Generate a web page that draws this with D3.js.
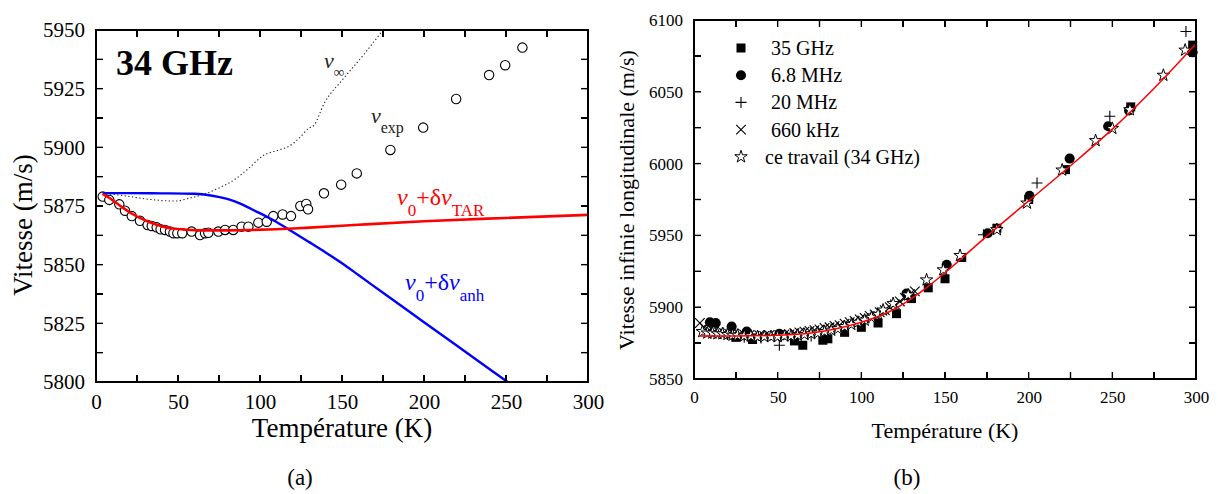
<!DOCTYPE html>
<html><head><meta charset="utf-8">
<script src="https://cdn.jsdelivr.net/npm/d3@7"></script>
<style>
body{margin:0;background:#fff;position:relative;}
svg{display:block;font-family:"Liberation Serif","Times New Roman",serif;}
.fr{position:absolute;box-sizing:border-box;border:2px solid #000;pointer-events:none;}
.tk{position:absolute;background:#000;pointer-events:none;}
</style></head><body>
<svg id="c" width="1218" height="494" xmlns="http://www.w3.org/2000/svg"></svg>
<script>
// ---------- Panel (a) data ----------
const tempTicksA = [0,25,50,75,100,125,150,175,200,225,250,275,300];
const tempLabelsA = [0,50,100,150,200,250,300];
const velTicksA = [5800,5812.5,5825,5837.5,5850,5862.5,5875,5887.5,5900,5912.5,5925,5937.5,5950];
const velLabelsA = [5800,5825,5850,5875,5900,5925,5950];
const vExp = [[4.1,5879.0],[8.1,5877.6],[14.2,5875.7],[17.7,5873.0],[21.8,5870.7],[26.8,5868.7],[31.5,5866.9],[34,5866.5],[37,5865.9],[39.4,5865.1],[42.1,5864.8],[45.1,5864.1],[47.2,5863.4],[49.6,5863.4],[52.6,5863.4],[58.3,5864.1],[63.4,5862.6],[66.5,5863.4],[68.5,5863.6],[74.6,5864.1],[78.7,5864.8],[83.7,5864.8],[88.8,5866.2],[92.9,5866.2],[99,5867.9],[104.1,5868.3],[108.1,5870.7],[113.8,5871.4],[118.9,5870.7],[124.6,5875.0],[128.2,5875.9],[129.3,5873.6],[139,5880.4],[149.5,5884.1],[159,5888.9],[179.5,5898.9],[199.5,5908.4],[219.6,5920.6],[239.7,5930.8],[249.5,5935],[260,5942.5]];
const vTar = [[4,5880.2],[8,5878.5],[12,5876.5],[17,5874],[22,5871.7],[27,5869.8],[32,5868.3],[37,5867],[42,5866],[47,5865.4],[55,5864.9],[65,5864.6],[80,5864.6],[95,5864.8],[110,5865.1],[130,5865.8],[160,5867],[200,5868.5],[250,5869.9],[300,5871.2]];
const vAnh = [[4,5880.5],[20,5880.5],[40,5880.4],[60,5880.2],[70,5879.5],[80,5878],[88,5876],[95,5873.6],[106,5869.8],[118,5864.8],[130,5859.6],[140,5855.2],[150,5850.6],[160,5845.6],[175,5838],[200,5825.5],[225,5813],[251,5800]];
const vInf = [[4,5880.5],[17,5879.4],[33,5877.8],[48,5877.1],[58,5878.5],[67,5880.3],[76,5883],[84,5886],[93,5891],[102,5896.5],[112,5899],[118,5900.6],[124,5904],[129.5,5908],[133,5909.5],[139,5918.5],[151,5929.4],[163,5939.3],[175,5950]];

// ---------- Panel (b) data ----------
const tempTicksB = [0,25,50,75,100,125,150,175,200,225,250,275,300];
const tempLabelsB = [0,50,100,150,200,250,300];
const velTicksB = [5850,5875,5900,5925,5950,5975,6000,6025,6050,6075,6100];
const velLabelsB = [5850,5900,5950,6000,6050,6100];
const fitB = [[3,5880],[25,5880],[50,5880.5],[70,5882],[85,5885],[100,5889.5],[117,5897],[130,5906],[140,5914.5],[150,5924],[175,5949.5],[200,5974],[225,5998.5],[250,6024],[275,6052.5],[300,6083.5]];
const ghz35 = [[25,5879],[35,5877.5],[60,5876.5],[65,5873.5],[77,5877],[80,5878],[90,5882.5],[100,5886],[110,5889],[121,5895.5],[130,5906],[140,5913.5],[150,5919.8],[160,5934.6],[181,5955],[200,5975],[222,5995.8],[261,6039.5],[298,6082.5]];
const mhz68 = [[9.5,5889.5],[13,5889],[22.5,5886.5],[31.5,5883],[51,5881.5],[127,5909.5],[151,5929.5],[175.5,5951.5],[200.5,5977.5],[224.5,6003.5],[247.5,6026],[260,6037],[298,6077.5]];
const mhz20 = [[10,5882],[20,5881],[30,5879],[40,5878.5],[51,5873.5],[60,5878],[70,5880],[173,5950.5],[205,5986.5],[248.5,6033],[294,6092]];
const khz660 = [[3.5,5889],[6,5886],[9,5884],[12,5883],[15,5882.5],[18,5882],[21,5881.5],[24,5881.5],[27,5881],[30,5881],[33,5880.5],[36,5880],[39,5880.5],[42,5880],[45,5880.5],[48,5880],[51,5880.5],[54,5881],[57,5881],[60,5882],[63,5882.5],[66,5883],[69,5883.5],[72,5884],[75,5884.5],[78,5885.5],[81,5886],[84,5887],[87,5887.5],[90,5888.5],[93,5889.5],[96,5890.5],[99,5891.5],[102,5892.5],[105,5894],[108,5895],[111,5896.5],[114,5898],[117,5900],[120,5902],[123,5904],[126,5906.5],[129,5909],[132,5911]];
const thisWork = [[5,5883],[8,5882],[11,5882],[14,5881.5],[17,5881.5],[20,5881],[23,5880.5],[26,5880.5],[30,5880],[34,5880],[38,5879.5],[42,5879.5],[46,5879.5],[50,5879.5],[54,5880],[58,5880],[62,5880.5],[66,5881],[70,5881.5],[74,5882],[78,5883],[82,5884],[86,5885],[90,5886.5],[94,5888],[98,5889.5],[102,5891],[106,5893],[110,5895],[113,5898],[119,5902.5],[128,5908.5],[139,5919],[149,5926],[159,5936],[181,5954],[199,5972.5],[220,5995.5],[240,6016],[250,6024.5],[260.5,6037.5],[280.5,6061.5],[293.5,6079]];
const legendLabels = ["35 GHz","6.8 MHz","20 MHz","660 kHz","ce travail (34 GHz)"];

const svg = d3.select('#c');
const FONT = '"Liberation Serif","Times New Roman",serif';

function drawLabels(xs, ys, xl, yl, fs, padX, padY) {
  const g = svg.append('g');
  const [x0] = xs.range(), [yb] = ys.range();
  const ax = g.append('g').attr('transform',`translate(0,${yb})`)
    .call(d3.axisBottom(xs).tickValues(xl).tickSize(0).tickPadding(padX).tickFormat(d3.format('d')));
  const ay = g.append('g').attr('transform',`translate(${x0},0)`)
    .call(d3.axisLeft(ys).tickValues(yl).tickSize(0).tickPadding(padY).tickFormat(d3.format('d')));
  [ax, ay].forEach(a => { a.select('.domain').remove(); a.selectAll('.tick line').remove(); });
  g.selectAll('text').attr('font-family',FONT).attr('font-size',fs).attr('fill','#000');
}

// frame + inward ticks (SVG)
function drawFrame(xs, ys, xt, yt, len, sw) {
  const [x0,x1] = xs.range(), [yb,yt0] = ys.range();
  const g = svg.append('g');
  g.append('rect').attr('x',x0).attr('y',yt0).attr('width',x1-x0).attr('height',yb-yt0)
    .attr('fill','none').attr('stroke','#000').attr('stroke-width',sw);
  const segs = [];
  xt.forEach(t => { const x = xs(t); segs.push([x,yb,0,-len],[x,yt0,0,len]); });
  yt.forEach(t => { const y = ys(t); segs.push([x0,y,len,0],[x1,y,-len,0]); });
  g.selectAll(null).data(segs).join('path')
    .attr('d', d => `M${d[0]},${d[1]}l${d[2]},${d[3]}`)
    .attr('fill','none').attr('stroke','#000').attr('stroke-width',1.4);
  // same frame and ticks as positioned HTML overlay, from the same scales
  const body = d3.select('body');
  body.append('div').attr('class','fr')
    .style('left', (x0-1)+'px').style('top', (yt0-1)+'px')
    .style('width', (x1-x0+2)+'px').style('height', (yb-yt0+2)+'px');
  const tw = 1.4;
  const boxes = [];
  xt.forEach(t => { const x = xs(t);
    boxes.push([x-tw/2, yb-len, tw, len], [x-tw/2, yt0, tw, len]); });
  yt.forEach(t => { const y = ys(t);
    boxes.push([x0, y-tw/2, len, tw], [x1-len, y-tw/2, len, tw]); });
  body.selectAll(null).data(boxes).join('div').attr('class','tk')
    .style('left', d => d[0]+'px').style('top', d => d[1]+'px')
    .style('width', d => d[2]+'px').style('height', d => d[3]+'px');
}

// ================= Panel (a) =================
const xA = d3.scaleLinear().domain([0,300]).range([96,588]);
const yA = d3.scaleLinear().domain([5800,5950]).range([382,30]);
const lineA = d3.line().x(d=>xA(d[0])).y(d=>yA(d[1])).curve(d3.curveMonotoneX);
const pa = svg.append('g');
pa.append('path').datum(vInf).attr('d',lineA).attr('fill','none').attr('stroke','#222')
  .attr('stroke-width',1.1).attr('stroke-dasharray','1.3,2.4');
pa.selectAll('circle.exp').data(vExp).join('circle').attr('class','exp')
  .attr('cx',d=>xA(d[0])).attr('cy',d=>yA(d[1])).attr('r',4.7)
  .attr('fill','#fff').attr('stroke','#000').attr('stroke-width',1.1);
pa.append('path').datum(vAnh).attr('d',lineA).attr('fill','none').attr('stroke','#0000ff').attr('stroke-width',2.4);
pa.append('path').datum(vTar).attr('d',lineA).attr('fill','none').attr('stroke','#ff0000').attr('stroke-width',2.6);
drawFrame(xA, yA, tempTicksA, velTicksA, 7, 2);
drawLabels(xA, yA, tempLabelsA, velLabelsA, 21, 12, 11);

svg.append('text').attr('x',116).attr('y',75).attr('font-size',36).attr('font-weight','bold')
  .attr('font-family',FONT).text('34 GHz');

function sublabel(x, y, color, size, subSize, parts) {
  const t = svg.append('text').attr('x',x).attr('y',y).attr('fill',color)
    .attr('font-family',FONT).attr('font-size',size);
  let shift = 0;
  parts.forEach(p => {
    const ts = t.append('tspan').text(p.t);
    if (p.i) ts.attr('font-style','italic');
    const target = p.s ? subSize*0.62 : 0;
    if (target !== shift) { ts.attr('dy', target - shift); shift = target; }
    if (p.s) ts.attr('font-size', subSize);
  });
}
sublabel(324, 68, '#222', 22, 15, [{t:'v',i:1},{t:'\u221E',s:1}]);
sublabel(371, 123, '#222', 22, 16, [{t:'v',i:1},{t:'exp',s:1}]);
sublabel(397, 205, '#ff0000', 24, 17, [{t:'v',i:1},{t:'0',s:1},{t:'+\u03B4'},{t:'v',i:1},{t:'TAR',s:1}]);
sublabel(405, 290, '#0000ff', 24, 17, [{t:'v',i:1},{t:'0',s:1},{t:'+\u03B4'},{t:'v',i:1},{t:'anh',s:1}]);

svg.append('text').attr('transform','translate(23,225) rotate(-90)').attr('dy','0.35em')
  .attr('text-anchor','middle').attr('font-family',FONT).attr('font-size',27).text('Vitesse (m/s)');
svg.append('text').attr('x',342).attr('y',437).attr('text-anchor','middle')
  .attr('font-family',FONT).attr('font-size',27).text('Température (K)');
svg.append('text').attr('x',300).attr('y',485).attr('text-anchor','middle')
  .attr('font-family',FONT).attr('font-size',23).text('(a)');

// ================= Panel (b) =================
const xB = d3.scaleLinear().domain([0,300]).range([694,1196]);
const yB = d3.scaleLinear().domain([5850,6100]).range([379,20]);
const lineB = d3.line().x(d=>xB(d[0])).y(d=>yB(d[1])).curve(d3.curveMonotoneX);
const pb = svg.append('g');

const sqPath = d3.symbol().type(d3.symbolSquare).size(81)();
const ciPath = d3.symbol().type(d3.symbolCircle).size(80)();
const starPath = d3.symbol().type(d3.symbolStar).size(48)();
const plusPath = 'M-5.5,0H5.5M0,-5.5V5.5';
const xPath = 'M-4.8,-4.8L4.8,4.8M-4.8,4.8L4.8,-4.8';

function styleMark(sel, kind) {
  if (kind === 'sq') sel.attr('d', sqPath).attr('fill','#000');
  else if (kind === 'ci') sel.attr('d', ciPath).attr('fill','#000');
  else if (kind === 'plus') sel.attr('d', plusPath).attr('fill','none').attr('stroke','#000').attr('stroke-width',1.1);
  else if (kind === 'x') sel.attr('d', xPath).attr('fill','none').attr('stroke','#000').attr('stroke-width',1.1);
  else if (kind === 'star') sel.attr('d', starPath).attr('fill','#fff').attr('stroke','#000').attr('stroke-width',1);
}
function marks(g, data, kind) {
  const sel = g.selectAll(null).data(data).join('path')
    .attr('transform', d => `translate(${xB(d[0])},${yB(d[1])})`);
  styleMark(sel, kind);
}
marks(pb, ghz35, 'sq');
marks(pb, mhz68, 'ci');
marks(pb, mhz20, 'plus');
marks(pb, khz660, 'x');
marks(pb, thisWork, 'star');
pb.append('path').datum(fitB).attr('d',lineB).attr('fill','none').attr('stroke','#ff0000').attr('stroke-width',1.5);
drawFrame(xB, yB, tempTicksB, velTicksB, 7, 2);
drawLabels(xB, yB, tempLabelsB, velLabelsB, 17, 12, 11);

// legend
const kinds = ['sq','ci','plus','x','star'];
const lg = svg.append('g');
legendLabels.forEach((lab, i) => {
  const yy = 48 + i*27.2;
  const m = lg.append('path').attr('transform',`translate(741,${yy})`);
  styleMark(m, kinds[i]);
  lg.append('text').attr('x', i===4 ? 765 : 771).attr('y', yy+7)
    .attr('font-family',FONT).attr('font-size',20).text(lab);
});

svg.append('text').attr('transform','translate(626,200) rotate(-90)').attr('dy','0.35em')
  .attr('text-anchor','middle').attr('font-family',FONT).attr('font-size',22).text('Vitesse infinie longitudinale (m/s)');
svg.append('text').attr('x',945).attr('y',438).attr('text-anchor','middle')
  .attr('font-family',FONT).attr('font-size',22).text('Température (K)');
svg.append('text').attr('x',907).attr('y',485).attr('text-anchor','middle')
  .attr('font-family',FONT).attr('font-size',23).text('(b)');
</script>
</body></html>
